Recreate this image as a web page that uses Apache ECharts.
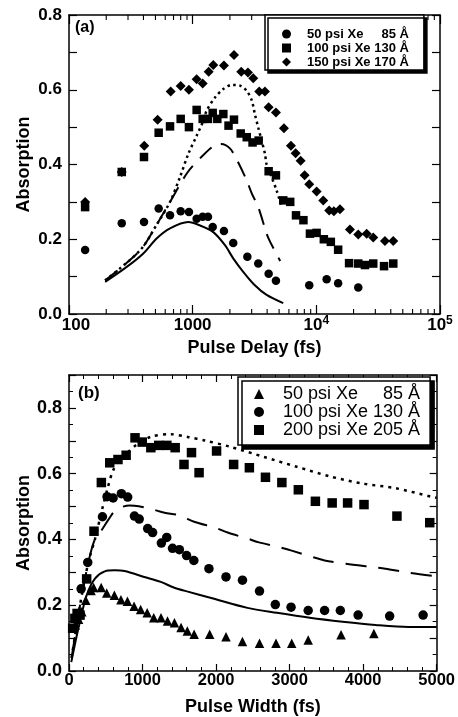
<!DOCTYPE html>
<html><head><meta charset="utf-8">
<script src="https://cdn.jsdelivr.net/npm/echarts@6/dist/echarts.min.js"></script>
<style>html,body{margin:0;padding:0;background:#fff}#c{width:458px;height:717px}</style>
</head><body><div id="c"></div>
<script>
// ---------- Panel (a): absorption vs pulse delay (fs) ----------
const delayCircle = [135, 267, 404, 531, 656, 800, 933, 1077, 1205, 1330, 1452, 1791, 2128, 2768, 3390, 4115, 4713, 8764, 12120, 15010, 21830];
const absCircleA  = [0.171, 0.243, 0.246, 0.282, 0.264, 0.275, 0.273, 0.255, 0.26, 0.26, 0.233, 0.222, 0.19, 0.153, 0.135, 0.108, 0.089, 0.077, 0.093, 0.082, 0.071];

const delaySquare = [135, 267, 404, 531, 656, 800, 933, 1077, 1205, 1330, 1452, 1582, 1770, 1950, 2158, 2446, 2737, 3050, 3417, 4115, 4713, 5400, 6150, 6850, 7865, 8880, 10050, 11500, 13100, 15010, 18400, 21830, 24730, 28850, 35280, 41890];
const absSquareA  = [0.286, 0.38, 0.42, 0.485, 0.502, 0.522, 0.5, 0.546, 0.522, 0.522, 0.538, 0.522, 0.535, 0.504, 0.52, 0.483, 0.473, 0.459, 0.464, 0.382, 0.371, 0.304, 0.3, 0.264, 0.251, 0.215, 0.217, 0.2, 0.193, 0.172, 0.136, 0.135, 0.131, 0.135, 0.128, 0.135];

const delayDiamond = [135, 267, 406, 521, 664, 800, 933, 1077, 1205, 1347, 1468, 1791, 2158, 2471, 2799, 3090, 3453, 3840, 4115, 4713, 5470, 6233, 6803, 7466, 8043, 8764, 10050, 11370, 12710, 13870, 15520, 18700, 21830, 25530, 28850, 35870, 41890];
const absDiamondA  = [0.30, 0.38, 0.45, 0.52, 0.595, 0.61, 0.60, 0.628, 0.617, 0.648, 0.666, 0.665, 0.693, 0.648, 0.646, 0.631, 0.595, 0.595, 0.553, 0.539, 0.497, 0.45, 0.43, 0.41, 0.371, 0.347, 0.328, 0.304, 0.277, 0.275, 0.28, 0.226, 0.213, 0.215, 0.205, 0.195, 0.195];

const delaySolid = [196, 293, 399, 511, 656, 922, 1144, 1468, 1825, 2127, 2563, 3183, 3964, 5400];
const absSolidA  = [0.086, 0.126, 0.162, 0.202, 0.229, 0.246, 0.237, 0.219, 0.184, 0.149, 0.113, 0.077, 0.051, 0.029];

const delayDash = [196, 375, 514, 656, 914, 1208, 1458, 1700, 2000, 2300, 2737, 3010, 3390, 3964, 4232, 5100];
const absDashA  = [0.09, 0.17, 0.24, 0.30, 0.38, 0.424, 0.448, 0.455, 0.443, 0.41, 0.357, 0.322, 0.286, 0.215, 0.193, 0.142];

const delayDot = [196, 375, 514, 656, 789, 921, 1077, 1220, 1296, 1515, 1770, 2070, 2413, 2737, 3010, 3183, 3390, 3611, 3840, 3964, 4300, 4771, 5255];
const absDotA  = [0.09, 0.17, 0.24, 0.30, 0.366, 0.428, 0.477, 0.517, 0.544, 0.579, 0.602, 0.613, 0.611, 0.597, 0.571, 0.535, 0.499, 0.464, 0.429, 0.40, 0.37, 0.331, 0.286];

// log-axis minor tick positions (2..9 x each decade)
const delayMinorTicks = [200, 300, 400, 500, 600, 700, 800, 900, 2000, 3000, 4000, 5000, 6000, 7000, 8000, 9000, 20000, 30000, 40000, 50000, 60000, 70000, 80000, 90000];

// ---------- Panel (b): absorption vs pulse width (fs) ----------
const widthTri = [85, 130, 174, 228, 300, 335, 438, 513, 617, 706, 795, 885, 974, 1063, 1153, 1251, 1340, 1434, 1524, 1609, 1702, 1913, 2135, 2359, 2591, 2815, 3029, 3253, 3700, 4146];
const absTriB  = [0.14, 0.157, 0.18, 0.215, 0.245, 0.254, 0.254, 0.237, 0.23, 0.217, 0.212, 0.197, 0.187, 0.177, 0.162, 0.162, 0.152, 0.147, 0.132, 0.122, 0.112, 0.112, 0.104, 0.09, 0.084, 0.084, 0.084, 0.094, 0.11, 0.114];

const widthCircle = [165, 255, 455, 518, 600, 712, 798, 890, 955, 1070, 1137, 1256, 1329, 1408, 1501, 1599, 1698, 1903, 2135, 2359, 2591, 2806, 3020, 3253, 3476, 3690, 3932, 4361, 4816];
const absCircleB  = [0.25, 0.33, 0.469, 0.53, 0.526, 0.539, 0.529, 0.471, 0.462, 0.433, 0.421, 0.389, 0.406, 0.373, 0.369, 0.351, 0.336, 0.311, 0.286, 0.276, 0.243, 0.202, 0.194, 0.184, 0.184, 0.184, 0.17, 0.167, 0.17];

const widthSquare = [50, 80, 110, 150, 240, 340, 440, 554, 666, 777, 898, 996, 1113, 1220, 1331, 1444, 1564, 1666, 1769, 2007, 2239, 2453, 2672, 2895, 3119, 3351, 3579, 3789, 4012, 4460, 4906];
const absSquareB  = [0.13, 0.16, 0.175, 0.17, 0.28, 0.425, 0.573, 0.633, 0.643, 0.656, 0.709, 0.696, 0.679, 0.686, 0.686, 0.679, 0.628, 0.664, 0.603, 0.669, 0.628, 0.618, 0.589, 0.573, 0.551, 0.516, 0.511, 0.511, 0.506, 0.471, 0.451];

const widthSolid = [31, 130, 241, 353, 487, 621, 755, 1023, 1247, 1425, 1604, 1934, 2426, 2828, 3275, 3722, 4169, 4615, 5000];
const absSolidB  = [0.027, 0.132, 0.231, 0.281, 0.303, 0.306, 0.304, 0.286, 0.271, 0.254, 0.242, 0.222, 0.192, 0.177, 0.162, 0.15, 0.14, 0.134, 0.134];

const widthDash = [35, 150, 264, 353, 452, 550, 643, 822, 950, 1113, 1300, 1488, 1712, 1980, 2158, 2449, 2583, 2873, 3029, 3320, 3476, 3767, 4125, 4303, 4615, 5000];
const absDashB  = [0.04, 0.2, 0.331, 0.401, 0.431, 0.465, 0.491, 0.503, 0.501, 0.493, 0.481, 0.474, 0.453, 0.436, 0.421, 0.401, 0.391, 0.376, 0.366, 0.346, 0.336, 0.326, 0.316, 0.311, 0.299, 0.288];

const widthDot = [35, 150, 264, 353, 460, 530, 600, 700, 800, 900, 1113, 1381, 1627, 1846, 2203, 2650, 3097, 3543, 3990, 4437, 4928, 5000];
const absDotB  = [0.04, 0.2, 0.331, 0.401, 0.50, 0.56, 0.61, 0.645, 0.665, 0.685, 0.712, 0.72, 0.711, 0.701, 0.681, 0.651, 0.621, 0.592, 0.57, 0.556, 0.53, 0.527];

const legendA = {a50: '50 psi Xe     85 Å', a100: '100 psi Xe 130 Å', a150: '150 psi Xe 170 Å'};
const legendB = {b50: '50 psi Xe     85 Å', b100: '100 psi Xe 130 Å', b200: '200 psi Xe 205 Å'};

// ---------- chart ----------
const F = '"Liberation Sans", Arial, Helvetica, sans-serif';
const zip = (xs, ys) => xs.map((x, i) => [x, ys[i]]);
const black = '#000';
const frameLine = {show: true, onZero: false, lineStyle: {color: black, width: 1.5}};

function evenTenths(v) { const t = Math.round(v * 10); return t % 2 === 0 ? (t / 10).toFixed(1) : ''; }
function plainNum(v) { return String(Math.round(v)); }
function logLabel(v) {
  const e = Math.round(Math.log10(v));
  if (e === 2) return '{first|100}';
  if (e === 3) return '{n|1000}';
  return '{n|10}{sup|' + e + '}';
}
const baseTxt = {fontFamily: F, fontWeight: 'bold', fontSize: 17, lineHeight: 20, color: black};
const richLog = {
  n: Object.assign({}, baseTxt),
  first: Object.assign({}, baseTxt, {padding: [0, 0, 0, 14]}),
  sup: {fontFamily: F, fontWeight: 'bold', fontSize: 12, lineHeight: 8, verticalAlign: 'top', color: black}
};
const nameStyle = {fontFamily: F, fontWeight: 'bold', fontSize: 18, color: black};

function lineSeries(data, xi, yi, type, width) {
  return {type: 'line', data: data, xAxisIndex: xi, yAxisIndex: yi, showSymbol: false, symbol: 'none',
    smooth: 0.3, silent: true, z: 2, lineStyle: {color: black, width: width, type: type}};
}
function scatter(name, data, xi, yi, symbol, size) {
  return {type: 'scatter', name: name, data: data, xAxisIndex: xi, yAxisIndex: yi, symbol: symbol,
    symbolSize: size, itemStyle: {color: black, opacity: 1}, z: 3, silent: true};
}

const chart = echarts.init(document.getElementById('c'), null, {renderer: 'canvas'});
chart.setOption({
  animation: false,
  backgroundColor: '#fff',
  textStyle: {fontFamily: F},
  title: [
    {text: '(a)', left: 75, top: 20, padding: 0, textStyle: {fontFamily: F, fontWeight: 'bold', fontSize: 16, color: black}},
    {text: '(b)', left: 78, top: 385, padding: 0, textStyle: {fontFamily: F, fontWeight: 'bold', fontSize: 17, color: black}}
  ],
  grid: [
    {left: 69, top: 15, width: 371, height: 299},
    {left: 69, top: 375, width: 373, height: 299}
  ],
  legend: [
    {data: [{name: 'a50', icon: 'circle'}, {name: 'a100', icon: 'rect'}, {name: 'a150', icon: 'diamond'}],
     formatter: n => '{t|' + legendA[n] + '}', orient: 'vertical', left: 265, top: 15,
     padding: [12, 15, 1, 17], itemWidth: 9, itemHeight: 9, itemGap: 0,
     backgroundColor: '#fff', borderColor: black, borderWidth: 1.5,
     shadowColor: black, shadowBlur: 0, shadowOffsetX: 3, shadowOffsetY: 3,
     selectedMode: false,
     textStyle: {fontFamily: F, fontWeight: 'bold', fontSize: 13, lineHeight: 14, color: black,
       rich: {t: {fontFamily: F, fontWeight: 'bold', fontSize: 13, lineHeight: 14, color: black, padding: [0, 0, 0, 11]}}}},
    {data: [{name: 'b50', icon: 'triangle'}, {name: 'b100', icon: 'circle'}, {name: 'b200', icon: 'rect'}],
     formatter: n => '{t|' + legendB[n] + '}', orient: 'vertical', left: 238, top: 377,
     padding: [8, 10, 6, 16], itemWidth: 10, itemHeight: 10, itemGap: 0,
     backgroundColor: '#fff', borderColor: black, borderWidth: 1.5,
     shadowColor: black, shadowBlur: 0, shadowOffsetX: 4, shadowOffsetY: 4,
     selectedMode: false,
     textStyle: {fontFamily: F, fontWeight: 'normal', fontSize: 18, lineHeight: 17, color: black,
       rich: {t: {fontFamily: F, fontWeight: 'normal', fontSize: 18, lineHeight: 17, color: black, padding: [0, 0, 0, 14]}}}}
  ],
  xAxis: [
    {type: 'log', logBase: 10, gridIndex: 0, min: 100, max: 100000, position: 'bottom',
     axisLine: frameLine, splitLine: {show: false},
     axisTick: {show: true, inside: true, length: 9, lineStyle: {color: black, width: 1.2}},
     axisLabel: {margin: 1, color: black, formatter: logLabel, rich: richLog},
     name: 'Pulse Delay (fs)', nameLocation: 'middle', nameGap: 25, nameMoveOverlap: false, nameTextStyle: nameStyle},
    {type: 'log', logBase: 10, gridIndex: 0, min: 100, max: 100000, position: 'top',
     axisLine: frameLine, splitLine: {show: false},
     axisTick: {show: true, inside: true, length: 9, lineStyle: {color: black, width: 1.2}},
     axisLabel: {show: false}},
    {type: 'value', gridIndex: 1, min: 0, max: 5000, interval: 1000, position: 'bottom',
     axisLine: frameLine, splitLine: {show: false},
     axisTick: {show: true, inside: true, length: 7, lineStyle: {color: black, width: 1.2}},
     minorTick: {show: true, splitNumber: 5, length: 4, lineStyle: {color: black, width: 1}},
     axisLabel: {margin: 1, color: black, fontFamily: F, fontWeight: 'bold', fontSize: 16.5, formatter: plainNum},
     name: 'Pulse Width (fs)', nameLocation: 'middle', nameGap: 27, nameMoveOverlap: false, nameTextStyle: nameStyle},
    {type: 'value', gridIndex: 1, min: 0, max: 5000, interval: 1000, position: 'top',
     axisLine: frameLine, splitLine: {show: false},
     axisTick: {show: true, inside: true, length: 7, lineStyle: {color: black, width: 1.2}},
     minorTick: {show: true, splitNumber: 5, length: 4, lineStyle: {color: black, width: 1}},
     axisLabel: {show: false}}
  ],
  yAxis: [
    {type: 'value', gridIndex: 0, min: 0, max: 0.8, interval: 0.1, position: 'left',
     axisLine: frameLine, splitLine: {show: false},
     axisTick: {show: true, inside: true, length: 8, lineStyle: {color: black, width: 1.2}},
     axisLabel: {margin: 7, color: black, fontFamily: F, fontWeight: 'bold', fontSize: 17, formatter: evenTenths},
     name: 'Absorption', nameLocation: 'middle', nameGap: 36, nameMoveOverlap: false, nameTextStyle: nameStyle},
    {type: 'value', gridIndex: 0, min: 0, max: 0.8, interval: 0.1, position: 'right',
     axisLine: frameLine, splitLine: {show: false},
     axisTick: {show: true, inside: true, length: 8, lineStyle: {color: black, width: 1.2}},
     axisLabel: {show: false}},
    {type: 'value', gridIndex: 1, min: 0, max: 0.9, interval: 0.1, position: 'left',
     axisLine: frameLine, splitLine: {show: false},
     axisTick: {show: true, inside: true, length: 7, lineStyle: {color: black, width: 1.2}},
     minorTick: {show: true, splitNumber: 2, length: 4, lineStyle: {color: black, width: 1}},
     axisLabel: {margin: 7, color: black, fontFamily: F, fontWeight: 'bold', fontSize: 18, formatter: evenTenths},
     name: 'Absorption', nameLocation: 'middle', nameGap: 36, nameMoveOverlap: false, nameTextStyle: nameStyle},
    {type: 'value', gridIndex: 1, min: 0, max: 0.9, interval: 0.1, position: 'right',
     axisLine: frameLine, splitLine: {show: false},
     axisTick: {show: true, inside: true, length: 7, lineStyle: {color: black, width: 1.2}},
     minorTick: {show: true, splitNumber: 2, length: 4, lineStyle: {color: black, width: 1}},
     axisLabel: {show: false}}
  ],
  series: [
    // minor log ticks for panel (a), bottom and top edges
    {type: 'custom', xAxisIndex: 0, yAxisIndex: 0, silent: true, z: 1,
     data: delayMinorTicks.map(v => [v, 0]),
     encode: {x: 0, y: 1},
     renderItem: function (params, api) {
       const v = api.value(0);
       const b = api.coord([v, 0]);
       const t = api.coord([v, 0.8]);
       const st = {stroke: black, lineWidth: 1.1};
       return {type: 'group', children: [
         {type: 'line', shape: {x1: b[0], y1: b[1], x2: b[0], y2: b[1] - 5}, style: st},
         {type: 'line', shape: {x1: t[0], y1: t[1], x2: t[0], y2: t[1] + 5}, style: st}
       ]};
     }},
    lineSeries(zip(delaySolid, absSolidA), 0, 0, 'solid', 2),
    lineSeries(zip(delayDash, absDashA), 0, 0, [16, 10], 2),
    lineSeries(zip(delayDot, absDotA), 0, 0, [2.5, 3.5], 2.5),
    scatter('a50', zip(delayCircle, absCircleA), 0, 0, 'circle', 8.5),
    scatter('a100', zip(delaySquare, absSquareA), 0, 0, 'rect', 8.5),
    scatter('a150', zip(delayDiamond, absDiamondA), 0, 0, 'diamond', 10),

    lineSeries(zip(widthSolid, absSolidB), 2, 2, 'solid', 2),
    lineSeries(zip(widthDash, absDashB), 2, 2, [21, 12], 2),
    lineSeries(zip(widthDot, absDotB), 2, 2, [3, 5], 2.5),
    scatter('b50', zip(widthTri, absTriB), 2, 2, 'triangle', 9.5),
    scatter('b100', zip(widthCircle, absCircleB), 2, 2, 'circle', 9.5),
    scatter('b200', zip(widthSquare, absSquareB), 2, 2, 'rect', 9.5)
  ]
});
</script></body></html>
